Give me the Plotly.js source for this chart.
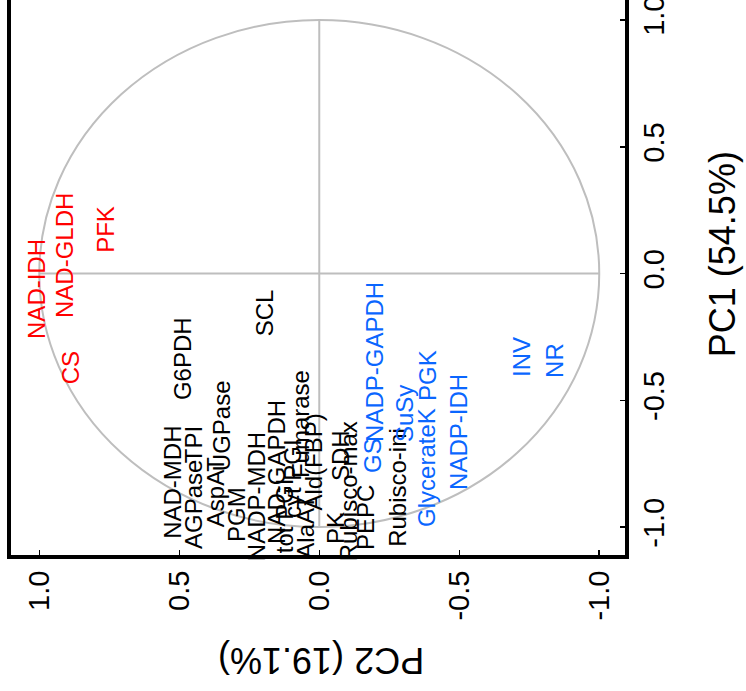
<!DOCTYPE html>
<html>
<head>
<meta charset="utf-8">
<script src="https://cdn.plot.ly/plotly-3.0.1.min.js"></script>
<style>html,body{margin:0;padding:0;background:#fff;}#chart{width:746px;height:691px;}</style>
</head>
<body>
<div id="chart"></div>
<script>
// Loadings (PC1, PC2)
const redLabels = ["NAD-IDH", "NAD-GLDH", "PFK", "CS"];
const redPC1 = [-0.061, 0.073, 0.176, -0.373];
const redPC2 = [1.012, 0.912, 0.762, 0.890];

const blackLabels = ["G6PDH", "SCL", "NAD-MDH", "AGPase", "TPI", "AspAT", "UGPase", "PGM",
  "NADP-MDH", "NAD-GAPDH", "tot PGI", "cyt PGI", "Fumarase", "AlaAT", "Ald(FBP)", "PK",
  "SDH", "Rubisco-max", "PEPC", "Rubisco-ini"];
const blackPC1 = [-0.337, -0.156, -0.822, -0.909, -0.673, -0.862, -0.598, -0.949,
  -0.878, -0.783, -0.953, -0.807, -0.594, -0.999, -0.745, -1.004,
  -0.716, -0.858, -0.961, -0.842];
const blackPC2 = [0.490, 0.197, 0.523, 0.451, 0.451, 0.372, 0.351, 0.298,
  0.226, 0.155, 0.126, 0.098, 0.069, 0.048, 0.022, -0.056,
  -0.074, -0.103, -0.163, -0.277];

const blueLabels = ["GS", "NADP-GAPDH", "SuSy", "GlycerateK", "PGK", "NADP-IDH", "INV", "NR"];
const bluePC1 = [-0.716, -0.349, -0.554, -0.763, -0.404, -0.625, -0.329, -0.341];
const bluePC2 = [-0.188, -0.195, -0.303, -0.381, -0.385, -0.495, -0.724, -0.838];

const tickVals = [-1, -0.5, 0, 0.5, 1];
const tickText = ["-1.0", "-0.5", "0.0", "0.5", "1.0"];
const xTitle = "PC2 (19.1%)";
const yTitle = "PC1 (54.5%)";

const groups = [
  {labels: redLabels, pc1: redPC1, pc2: redPC2, color: "#ff0000"},
  {labels: blackLabels, pc1: blackPC1, pc2: blackPC2, color: "#000000"},
  {labels: blueLabels, pc1: bluePC1, pc2: bluePC2, color: "#0a66ff"}
];

const FONT = "Liberation Sans, Arial, Helvetica, sans-serif";
const traces = [];
const annotations = [];
groups.forEach(g => {
  traces.push({
    type: "scatter", mode: "markers",
    x: g.pc2, y: g.pc1, text: g.labels,
    marker: {size: 1, color: g.color, opacity: 0},
    hoverinfo: "text", showlegend: false
  });
  g.labels.forEach((lab, i) => {
    annotations.push({
      x: g.pc2[i], y: g.pc1[i], xref: "x", yref: "y",
      text: lab, textangle: -90, showarrow: false,
      xanchor: "center", yanchor: "middle",
      font: {family: FONT, size: 24, color: g.color}
    });
  });
});

// axis titles (rotated like the reference)
annotations.push({
  xref: "paper", yref: "paper", x: 0.505, y: -0.19,
  text: xTitle, textangle: 180, showarrow: false,
  xanchor: "center", yanchor: "middle",
  font: {family: FONT, size: 36, color: "#000"}
});
annotations.push({
  xref: "paper", yref: "paper", x: 1.158, y: 0.542,
  text: yTitle, textangle: -90, showarrow: false,
  xanchor: "center", yanchor: "middle",
  font: {family: FONT, size: 36, color: "#000"}
});

const grey = {color: "#bebebe", width: 2};
const layout = {
  width: 746, height: 691,
  margin: {l: 11, r: 121, t: 0, b: 136},
  paper_bgcolor: "#fff", plot_bgcolor: "#fff",
  font: {family: FONT, color: "#000"},
  showlegend: false,
  xaxis: {
    range: [1.101, -1.092], autorange: false,
    tickvals: tickVals, ticktext: tickText, tickangle: -90,
    ticks: "inside", ticklen: 5, tickwidth: 1.5, tickcolor: "#000",
    showline: true, linewidth: 4, linecolor: "#000", mirror: false,
    showgrid: false, zeroline: false, ticklabeloverflow: "allow",
    tickfont: {family: FONT, size: 29, color: "#000"}
  },
  yaxis: {
    range: [-1.110, 1.079], autorange: false, side: "right",
    tickvals: tickVals, ticktext: tickText, tickangle: -90,
    ticks: "inside", ticklen: 5, tickwidth: 1.5, tickcolor: "#000",
    showline: true, linewidth: 4, linecolor: "#000", mirror: true,
    showgrid: false, zeroline: false, ticklabeloverflow: "allow",
    tickfont: {family: FONT, size: 29, color: "#000"}
  },
  shapes: [
    {type: "circle", xref: "x", yref: "y", x0: -1, x1: 1, y0: -1, y1: 1, line: grey, layer: "below"},
    {type: "line", xref: "x", yref: "y", x0: 0, x1: 0, y0: -1, y1: 1, line: grey, layer: "below"},
    {type: "line", xref: "x", yref: "y", x0: -1, x1: 1, y0: 0, y1: 0, line: grey, layer: "below"}
  ],
  annotations: annotations
};

Plotly.newPlot("chart", traces, layout, {displayModeBar: false, staticPlot: true});
</script>
</body>
</html>
